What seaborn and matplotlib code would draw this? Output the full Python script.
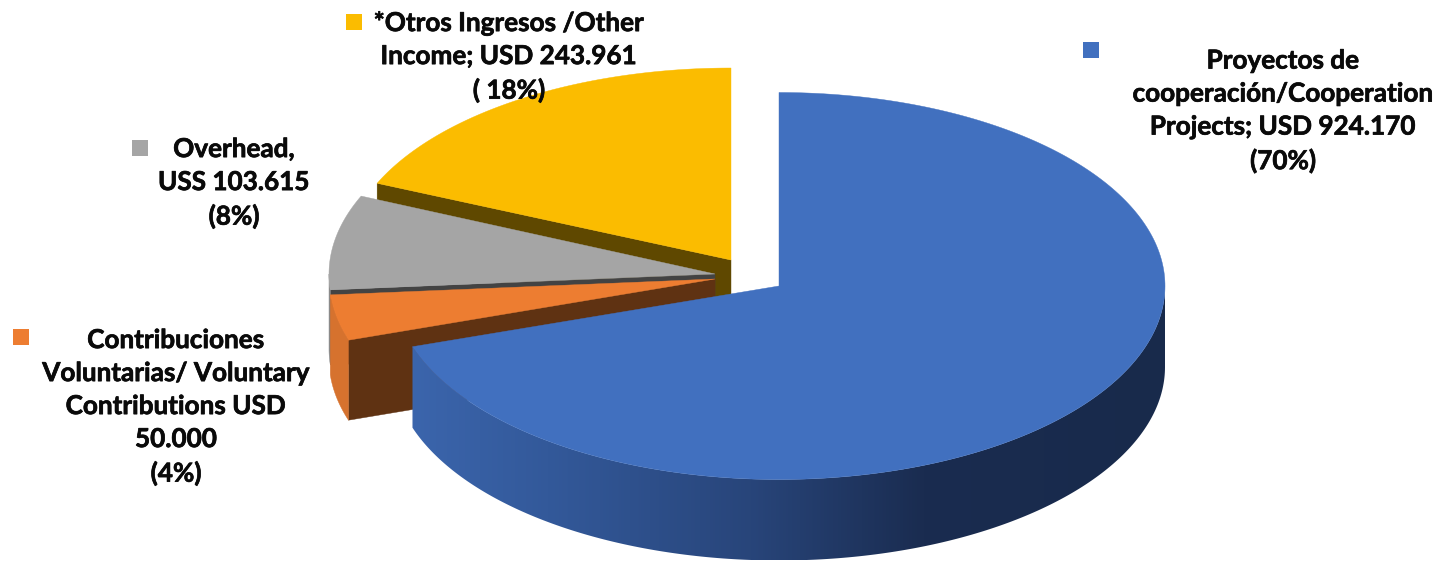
import numpy as np
import matplotlib
matplotlib.use("Agg")
import matplotlib.pyplot as plt
from matplotlib.patches import Polygon, Rectangle
from matplotlib.colors import LinearSegmentedColormap
import matplotlib.patheffects as pe
import seaborn as sns

# ---- data ----
categories = ["Proyectos de cooperación", "Contribuciones Voluntarias", "Overhead", "Otros Ingresos"]
values = [924170, 50000, 103615, 243961]
labels = [
    "Proyectos de\ncooperación/Cooperation\nProjects; USD 924.170\n(70%)",
    "Contribuciones\nVoluntarias/ Voluntary\nContributions USD\n50.000\n(4%)",
    "Overhead,\nUSS 103.615\n(8%)",
    "*Otros Ingresos /Other\nIncome; USD 243.961\n( 18%)",
]

# ---- style / layout (pixel canvas) ----
sns.set_theme(style="white")
plt.rcParams["font.family"] = ["Lato", "DejaVu Sans"]
palette = sns.color_palette(["#4170BF", "#ED7D31", "#A5A5A5", "#FBBC00"])
face_colors = ["#2C4A80", "#5F3212", "#434343", "#5F4800"]
rim_colors = ["#2C4A80", "#D6722E", "#8A8A8A", "#B08500"]
centers = [(779, 286), (715, 279), (715, 274), (731, 260)]
radii_x = [386, 386, 386, 386]
radii_y = [193.5, 195, 195, 192]
depths = [81, 80, 75, 72]
label_xy = [(1283, 111), (176, 407), (234, 183), (509, 57)]
marker_xy = [(1083, 42), (13, 329), (132, 140), (346, 14)]
rim_stops = [(0.0, "#3B65AC"), (0.18, "#33599A"), (0.45, "#28457A"), (0.68, "#1A2C50"), (1.0, "#182A4B")]

fig = plt.figure(figsize=(14.41, 5.61), dpi=100)
ax = fig.add_axes([0, 0, 1, 1])


def pt(i, deg, dy=0.0):
    """Point on slice i's ellipse, angle clockwise from 12 o'clock."""
    a = np.radians(deg)
    cx, cy = centers[i]
    return np.column_stack([cx + radii_x[i] * np.sin(a), cy - radii_y[i] * np.cos(a) + dy])


fractions = np.array(values) / np.sum(values)
edges = np.concatenate([[0], np.cumsum(fractions) * 360])
rim_cmap = LinearSegmentedColormap.from_list("rim", rim_stops)

# back slices first: yellow, gray, orange, then the large blue slice
for z, i in enumerate([3, 2, 1, 0]):
    a0, a1 = edges[i], edges[i + 1]
    c = centers[i]
    d = depths[i]
    base = 2 + z * 3
    # cut face on the slice's edge (visible for the left-hand slices)
    if i != 0:
        p = pt(i, a0)[0]
        ax.add_patch(Polygon([c, p, (p[0], p[1] + d), (c[0], c[1] + d)], closed=True,
                             fc=face_colors[i], ec=face_colors[i], lw=0.3, zorder=base))
    # outer rim (only the part facing the viewer)
    lo, hi = max(a0, 90), min(a1, 270)
    if hi > lo:
        th = np.linspace(lo, hi, 200)
        outline = np.vstack([pt(i, th), pt(i, th[::-1], d)])
        if i == 0:
            x0, x1 = outline[:, 0].min(), outline[:, 0].max()
            y0, y1 = outline[:, 1].min(), outline[:, 1].max()
            clip = Polygon(outline, closed=True, fc="none", ec="none", transform=ax.transData)
            ax.add_patch(clip)
            im = ax.imshow(np.linspace(0, 1, 512)[None, :], cmap=rim_cmap, aspect="auto",
                           extent=(x0, x1, y1, y0), zorder=base, interpolation="bilinear")
            im.set_clip_path(clip)
        else:
            ax.add_patch(Polygon(outline, closed=True, fc=rim_colors[i], ec=rim_colors[i], lw=0.3,
                                 zorder=base))
    # top surface
    th = np.linspace(a0, a1, 300)
    ax.add_patch(Polygon(np.vstack([[c], pt(i, th)]), closed=True, fc=palette[i], ec=palette[i],
                         lw=0.3, zorder=base + 1))

# labels and their colour keys
for i, txt in enumerate(labels):
    ax.text(*label_xy[i], txt, ha="center", va="center", fontsize=18.8, fontweight="bold",
            color="#0A0A0A", linespacing=1.45, zorder=30,
            path_effects=[pe.withStroke(linewidth=0.5, foreground="#0A0A0A")])
    mx, my = marker_xy[i]
    ax.add_patch(Rectangle((mx, my), 16, 16, fc=palette[i], ec="none", zorder=30))

ax.set_xlim(0, 1441)
ax.set_ylim(561, 0)
ax.axis("off")
fig.savefig("out.png", dpi=100, facecolor="white")
